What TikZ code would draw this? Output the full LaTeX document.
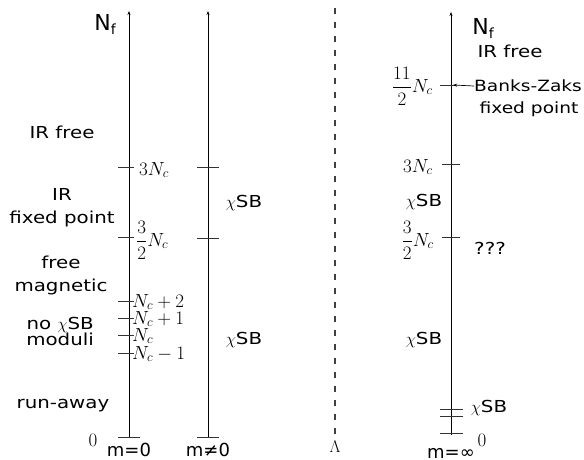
\RequirePackage{fix-cm}
\documentclass[tikz,border=0pt]{standalone}
\usepackage{amsmath}
\usepackage{fontspec}
\setmainfont[FakeStretch=1.2]{DejaVu Sans}
\newfontfamily\plainsans{DejaVu Sans}
\usetikzlibrary{arrows.meta}
\begin{document}
\begin{tikzpicture}[x=1pt,y=-1pt,
  lbl/.style={font=\fontsize{16.5}{23}\selectfont, inner sep=0pt, align=center},
  lblsm/.style={lbl, font=\fontsize{15.5}{23}\selectfont},
  mlab/.style={font=\plainsans\fontsize{18}{20}\selectfont, inner sep=0pt},
  nflab/.style={font=\plainsans\fontsize{22}{24}\selectfont, inner sep=0pt},
  mth/.style={font=\fontsize{19}{22}\selectfont, inner sep=0pt},
  axisline/.style={line width=0.9pt, -{Stealth[length=4pt,width=3pt]}},
  tickmark/.style={line width=0.8pt, black!80}]
\useasboundingbox (0,0) rectangle (584,459);

% ---- axis for m = 0 ----
\coordinate (a1b) at (129,437);
\coordinate (a1t) at (129,11);
\draw[axisline] (a1b) -- (a1t);
\foreach \n/\y in {t3/167, t32/237, tp2/301, tp1/318, t0/335, tm1/353}{
  \coordinate (a1\n) at (129,\y);
  \draw[tickmark] ([xshift=-11pt]a1\n) -- ([xshift=5pt]a1\n);
}
\draw[tickmark] ([xshift=-11pt]a1b) -- ([xshift=11pt]a1b);

\node[nflab] (nfl) at (105,24) {N{\fontsize{14}{14}\selectfont\raisebox{-4pt}{f}}};
\node[lbl] (irfree) at (62,132) {IR free};
\node[lbl] (irfp) at (62,208) {IR\\fixed point};
\node[lbl] (freemag) at (61,275) {free\\magnetic};
\node[lbl, align=right, font=\fontsize{16.5}{16}\selectfont, anchor=east] (nochi) at (94,331) {no $\chi$SB\\moduli};
\node[lbl] (runaway) at (63,406) {run-away};

\node[mth, anchor=base west] (l3) at (139,175) {$3N_c$};
\node[mth, anchor=west] (l32) at (136,240) {$\dfrac{3}{2}N_c$};
\node[mth, anchor=base west] (lp2) at (132,307) {$N_c+2$};
\node[mth, anchor=base west] (lp1) at (132,324) {$N_c+1$};
\node[mth, anchor=base west] (l0) at (132,341) {$N_c$};
\node[mth, anchor=base west] (lm1) at (132,359) {$N_c-1$};
\node[mth, anchor=base] (zl) at (93,446) {$0$};
\node[mlab, anchor=base] (m0) at (129,456) {m=0};

% ---- axis for m != 0 ----
\coordinate (a2b) at (208,437);
\coordinate (a2t) at (208,11);
\draw[axisline] (a2b) -- (a2t);
\foreach \n/\y in {t3/167, t32/238}{
  \coordinate (a2\n) at (208,\y);
  \draw[tickmark] ([xshift=-11pt]a2\n) -- ([xshift=11pt]a2\n);
}
\draw[tickmark] ([xshift=-11pt]a2b) -- ([xshift=11pt]a2b);
\node[lbl] (chi2a) at (244,203) {$\chi$SB};
\node[lbl] (chi2b) at (244,340) {$\chi$SB};
\node[mlab, anchor=base] (mn0) at (208,456) {m≠0};

% ---- cutoff ----
\coordinate (cut1) at (335,8);
\coordinate (cut2) at (335,438);
\draw[line width=1.1pt, black!75, dash pattern=on 6pt off 8pt] (cut1) -- (cut2);
\node[mth, font=\fontsize{17}{20}\selectfont, anchor=base] (lam) at (335,452) {$\Lambda$};

% ---- axis for m = infinity ----
\coordinate (a3b) at (451,435);
\coordinate (a3t) at (451,12);
\draw[axisline] (a3b) -- (a3t);
\coordinate (a3bz) at (451,85);
\coordinate (a3t3) at (451,164);
\coordinate (a3t32) at (451,237);
\coordinate (a3d1) at (451,409);
\coordinate (a3d2) at (451,416);
\coordinate (a3z) at (451,433);
\draw[tickmark] ([xshift=-11pt]a3bz) -- ([xshift=5pt]a3bz);
\foreach \n in {t3,t32}{
  \draw[tickmark] ([xshift=-9pt]a3\n) -- ([xshift=9pt]a3\n);
}
\foreach \n in {d1,d2}{
  \draw[tickmark] ([xshift=-11pt]a3\n) -- ([xshift=12pt]a3\n);
}
\draw[tickmark] ([xshift=-11pt]a3z) -- ([xshift=12pt]a3z);

\node[nflab] (nfr) at (483,28) {N{\fontsize{14}{14}\selectfont\raisebox{-4pt}{f}}};
\node[lbl] (irfree3) at (510,51) {IR free};
\node[lblsm, anchor=west] (bz) at (474,86) {Banks-Zaks};
\node[lblsm] (bzfp) at (529,109) {fixed point};
\draw[line width=0.7pt, -{Stealth[length=4pt,width=3pt]}] (bz.west) -- ([xshift=2pt]a3bz);
\node[mth, anchor=east] (l11) at (433,86) {$\dfrac{11}{2}N_c$};
\node[mth, anchor=base east] (r3) at (433,172) {$3N_c$};
\node[lbl] (chi3a) at (424,202) {$\chi$SB};
\node[mth, anchor=east] (r32) at (434,240) {$\dfrac{3}{2}N_c$};
\node[lbl] (qqq) at (490,248) {???};
\node[lbl] (chi3b) at (424,340) {$\chi$SB};
\node[lbl] (chi3c) at (489,408) {$\chi$SB};
\node[mth, anchor=base] (zr) at (482,446) {$0$};
\node[mlab, anchor=base] (minf) at (451,458) {m=∞};
\end{tikzpicture}
\end{document}
